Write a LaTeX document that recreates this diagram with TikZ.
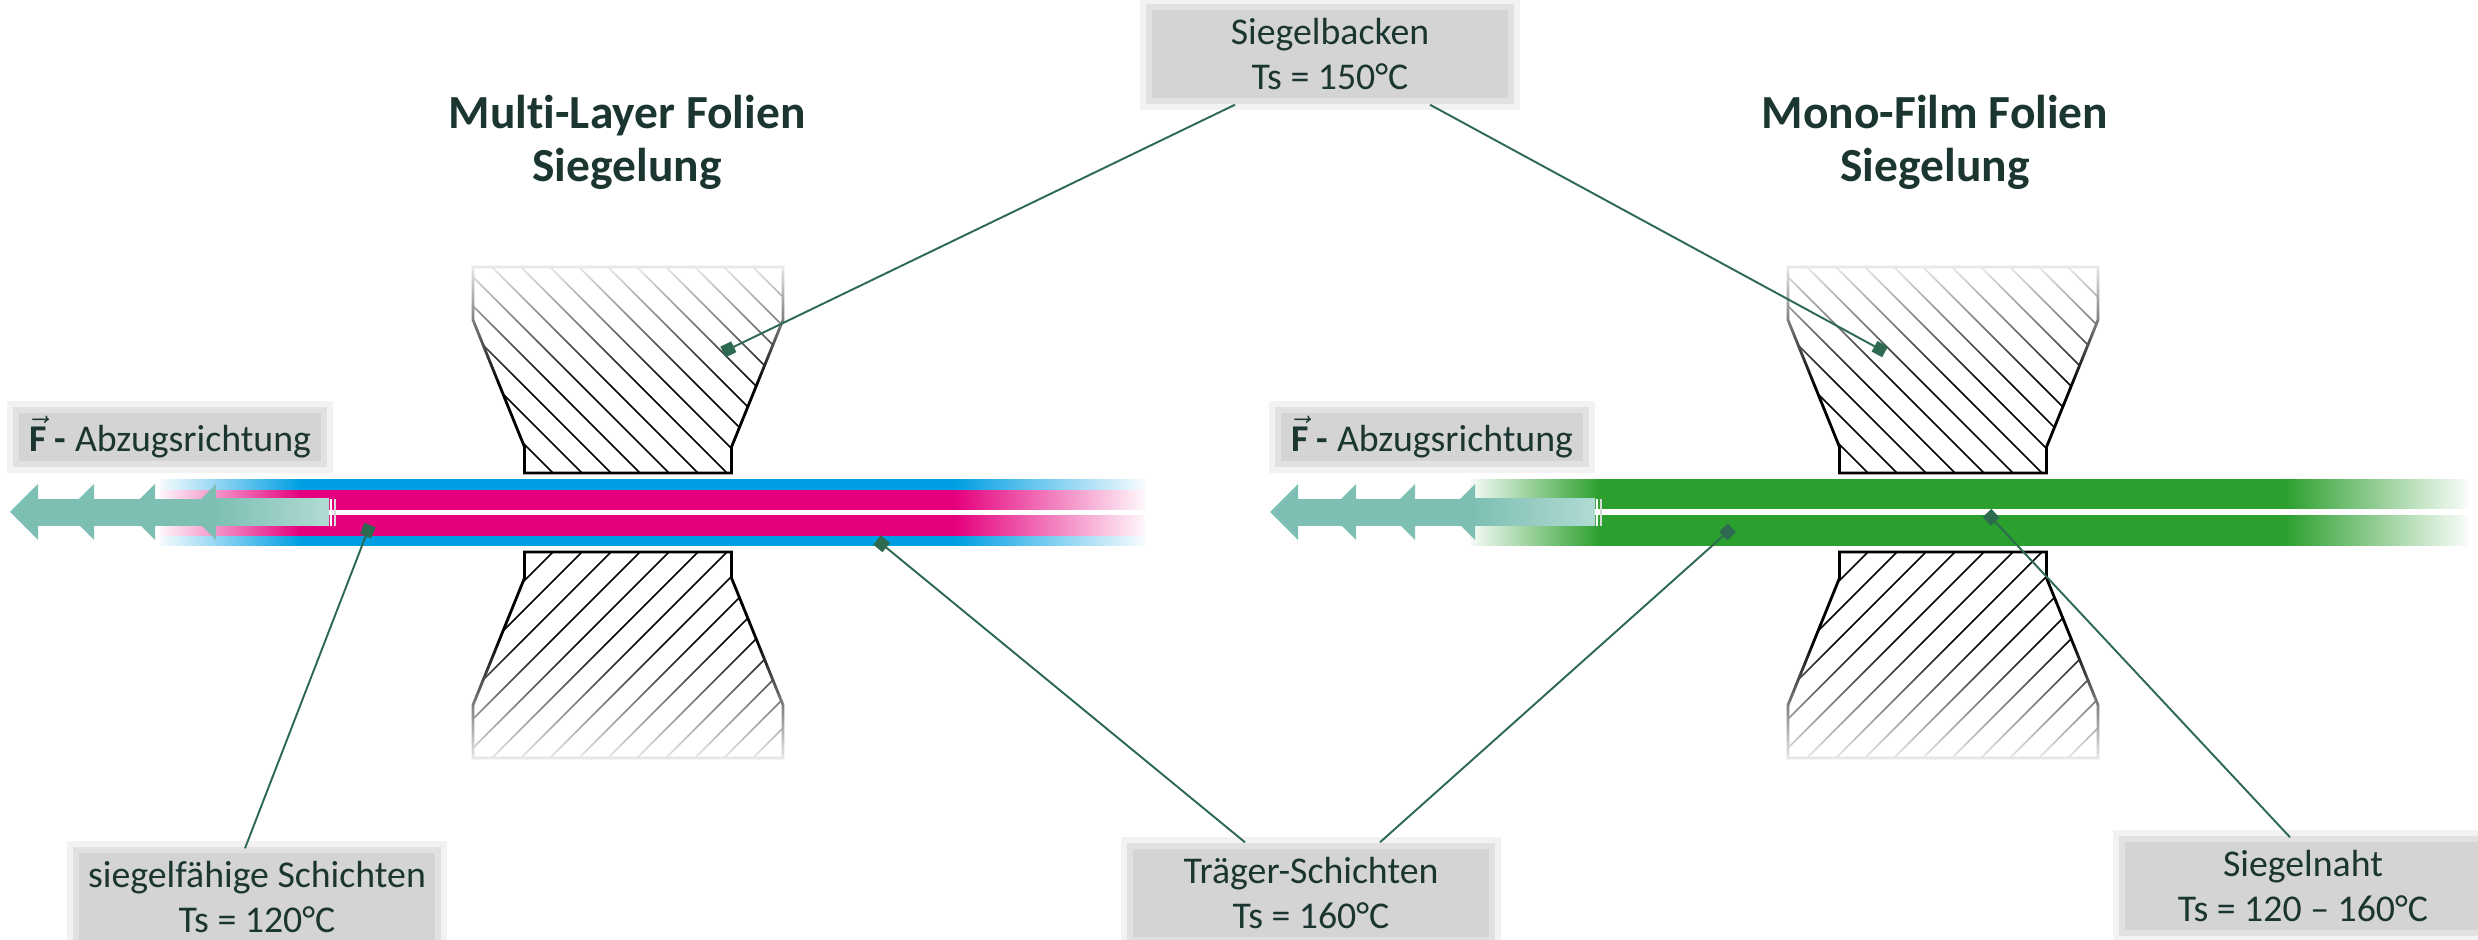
\documentclass[tikz,border=0pt]{standalone}
\usepackage{fontspec}
\setmainfont{Carlito}[Ligatures=NoCommon]
\usetikzlibrary{arrows.meta,calc,fadings}
\definecolor{ink}{HTML}{1B3630}
\definecolor{boxgray}{HTML}{D4D4D4}
\definecolor{leadgreen}{HTML}{2D6A4F}
\definecolor{pullteal}{HTML}{7EBFB4}
\definecolor{pulllight}{HTML}{B0DBD3}
\definecolor{carrierblue}{HTML}{009FE3}
\definecolor{sealpink}{HTML}{E5007E}
\definecolor{monogreen}{HTML}{2CA02F}
\tikzfading[name=fadeleft, left color=transparent!0, right color=transparent!100]
\tikzfading[name=faderight, left color=transparent!100, right color=transparent!0]
\tikzfading[name=fadetop, top color=transparent!0, bottom color=transparent!100]
\tikzfading[name=fadebot, top color=transparent!100, bottom color=transparent!0]
\newcommand{\pulltext}{{\bfseries\ensuremath{\vec{\mbox{\bfseries F}}} -} Abzugsrichtung}
\tikzset{
  lbl/.style={fill=boxgray, text=ink, align=center, inner sep=0pt, minimum width=3.56cm, minimum height=0.88cm,
    font=\fontsize{10.75}{12.8}\selectfont,
    preaction={draw=black, draw opacity=.05, line width=7pt},
    preaction={draw=black, draw opacity=.07, line width=3.5pt}},
  pullbox/.style={lbl, minimum width=3.01cm, minimum height=0.47cm},
  ttl/.style={text=ink, align=center, font=\fontsize{13.5}{15.1}\selectfont\bfseries},
  jaw/.style={line width=.8pt, line join=miter},
  hatch/.style={line width=.42pt},
  leadline/.style={draw=leadgreen, line width=.55pt, -{Square[length=3.4pt,width=3.4pt]}},
}
\begin{document}
\begin{tikzpicture}[x=0.01cm, y=-0.01cm]
  \useasboundingbox (0,0) rectangle (2478,940);

  % sealing jaws, lower one mirrored at the film axis
  \foreach \cx in {628,1943}{
    \foreach \fl/\sh in {1/0,-1/1025}{
      \begin{scope}[shift={(0,\sh)}, yscale=\fl]
        \begin{scope}
          \clip (\cx-155,267) -- (\cx+155,267) -- (\cx+155,320) -- (\cx+103.5,447) -- (\cx+103.5,473)
            -- (\cx-103.5,473) -- (\cx-103.5,447) -- (\cx-155,320) -- cycle;
          \foreach \k in {-3,...,15}
            \draw[hatch] ({\cx-548+29*\k+255},255) -- ++(230,230);
        \end{scope}
        \draw[jaw] (\cx-155,267) -- (\cx+155,267) -- (\cx+155,320) -- (\cx+103.5,447) -- (\cx+103.5,473)
          -- (\cx-103.5,473) -- (\cx-103.5,447) -- (\cx-155,320) -- cycle;
      \end{scope}
    }
    \fill[white, path fading=fadetop] (\cx-165,255) rectangle (\cx+165,385);
    \fill[white, path fading=fadebot] (\cx-165,640) rectangle (\cx+165,770);
  }

  % multi-layer film
  \fill[carrierblue] (160,479) rectangle (1145,546);
  \fill[sealpink] (160,490) rectangle (1145,536);
  \fill[white] (160,510) rectangle (1145,515);
  \fill[white, path fading=fadeleft] (155,475) rectangle (300,550);
  \fill[white, path fading=faderight] (955,475) rectangle (1150,550);

  % mono film
  \fill[monogreen] (1470,479) rectangle (2468,546);
  \fill[white] (1470,509) rectangle (2468,515);
  \fill[white, path fading=fadeleft] (1465,475) rectangle (1600,550);
  \fill[white, path fading=faderight] (2285,475) rectangle (2472,550);

  % pulling direction arrows
  \fill[pullteal] (38,499) rectangle (217,526);
  \shade[left color=pullteal, right color=pulllight] (216,499) rectangle (329,526);
  \foreach \x in {10,66,127,188}
    \fill[pullteal] (\x,512) -- (\x+28,484) -- (\x+28,540) -- cycle;
  \draw[white, line width=.6pt] (331,499) -- (331,526);
  \draw[gray!30, line width=.4pt] (335,499) -- (335,526);

  \fill[pullteal] (1298,499) rectangle (1475,526);
  \shade[left color=pullteal, right color=pulllight] (1474,499) rectangle (1595,526);
  \foreach \x in {1270,1328,1387,1447}
    \fill[pullteal] (\x,512) -- (\x+28,484) -- (\x+28,540) -- cycle;
  \draw[white, line width=.6pt] (1597,499) -- (1597,526);
  \draw[gray!30, line width=.4pt] (1601,499) -- (1601,526);

  % titles and labels
  \node[ttl] (ttlmulti) at (627,142) {Multi-Layer Folien\\Siegelung};
  \node[ttl] (ttlmono) at (1935,142) {Mono-Film Folien\\Siegelung};
  \node[pullbox] (pullL) at (170,437) {\pulltext};
  \node[pullbox] (pullR) at (1432,437) {\pulltext};
  \node[lbl] (backen) at (1330,54) {Siegelbacken\\Ts = 150°C};
  \node[lbl] (schicht) at (257,897) {siegelfähige Schichten\\Ts = 120°C};
  \node[lbl] (traeger) at (1311,893) {Träger-Schichten\\Ts = 160°C};
  \node[lbl] (naht) at (2303,886) {Siegelnaht\\Ts = 120 – 160°C};

  \coordinate (jawL) at (723,352);
  \coordinate (jawR) at (1885,352);
  \coordinate (sealL) at (370,525);
  \coordinate (carrL) at (877,540);
  \coordinate (carrR) at (1732,528);
  \coordinate (seam) at (1987,513);

  % leader lines
  \draw[leadline] ($(backen.south)+(-95,6)$) -- (jawL);
  \draw[leadline] ($(backen.south)+(100,6)$) -- (jawR);
  \draw[leadline] ($(schicht.north)+(-12,-4)$) -- (sealL);
  \draw[leadline] ($(traeger.north)+(-66,-6)$) -- (carrL);
  \draw[leadline] ($(traeger.north)+(69,-6)$) -- (carrR);
  \draw[leadline] ($(naht.north)+(-13,-4)$) -- (seam);
\end{tikzpicture}
\end{document}
